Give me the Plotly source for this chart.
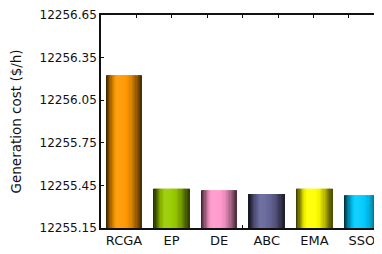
import plotly.graph_objects as go

categories = ["RCGA", "EP", "DE", "ABC", "EMA", "SSO"]
values = [12256.225, 12255.427, 12255.416, 12255.389, 12255.427, 12255.381]
colors = ["#FF9900", "#99CC00", "#FF99CC", "#666699", "#FFFF00", "#00CCFF"]
y_ticks = [12255.15, 12255.45, 12255.75, 12256.05, 12256.35, 12256.65]
y_title = "Generation cost ($/h)"

BAR_W = 0.75
N = 30
profile = [(0.0, 0.2), (0.08, 0.45), (0.2, 0.85), (0.33, 1.08), (0.48, 1.04),
           (0.64, 0.95), (0.78, 0.75), (0.9, 0.5), (1.0, 0.28)]


def factor(t):
    for (t0, f0), (t1, f1) in zip(profile[:-1], profile[1:]):
        if t0 <= t <= t1:
            return f0 + (f1 - f0) * (t - t0) / (t1 - t0)
    return profile[-1][1]


def shade(hexc, f):
    r, g, b = (int(hexc[i:i + 2], 16) for i in (1, 3, 5))
    if f <= 1:
        r, g, b = r * f, g * f, b * f
    else:
        k = f - 1
        r, g, b = r + (255 - r) * k, g + (255 - g) * k, b + (255 - b) * k
    return "rgb(%d,%d,%d)" % (round(r), round(g), round(b))


fig = go.Figure()
sw = BAR_W / N
for i in range(N):
    t = (i + 0.5) / N
    w = sw * 1.6 if i < N - 1 else sw
    fig.add_trace(go.Bar(
        x=categories, y=values,
        width=[w] * len(categories),
        offset=[-BAR_W / 2 + i * sw] * len(categories),
        marker=dict(color=[shade(c, factor(t)) for c in colors], line=dict(width=0)),
        showlegend=False, hoverinfo="skip",
    ))

fig.add_trace(go.Scatter(x=[], y=[], xaxis="x2", showlegend=False))

# page is rendered with an 8px body margin, so offsets compensate for it
L, T, PW, PH = 93, 7, 281, 213
font = dict(family="DejaVu Sans, Verdana, sans-serif", size=12, color="#111")
xfont = dict(family="DejaVu Sans, Verdana, sans-serif", size=13, color="#111")
tfont = dict(family="DejaVu Sans, Verdana, sans-serif", size=13.5, color="#111")
fig.update_layout(
    width=382, height=254,
    margin=dict(l=L, r=382 - L - PW, t=T, b=254 - T - PH, autoexpand=False),
    paper_bgcolor="white", plot_bgcolor="white",
    barmode="overlay",
    font=font,
    xaxis=dict(
        range=[-0.483, -0.483 + PW / 47.6], automargin=False,
        showline=True, linecolor="#111", linewidth=1.5, mirror=True,
        ticks="", showgrid=False, tickfont=xfont,
    ),
    xaxis2=dict(
        overlaying="x", range=[0, PW / 35.4], tickvals=[1, 2, 3, 4, 5, 6, 7],
        ticks="inside", ticklen=3, tickcolor="#111", tickwidth=1, automargin=False,
        mirror="ticks", showticklabels=False, showgrid=False, zeroline=False,
        showline=False, layer="below traces", side="bottom",
    ),
    yaxis=dict(
        range=[12255.15, 12256.65], tickvals=y_ticks, tickformat=".2f",
        ticks="inside", ticklen=3, tickcolor="#111", mirror="ticks",
        showline=True, linecolor="#111", linewidth=1.5, automargin=False,
        showgrid=False, zeroline=False, tickfont=font,
    ),
    annotations=[dict(
        text=y_title, textangle=-90, xref="paper", yref="paper",
        x=(7 - L) / PW, y=0.5, xanchor="center", yanchor="middle",
        showarrow=False, font=tfont,
    )],
)

fig.write_html("out.html")
